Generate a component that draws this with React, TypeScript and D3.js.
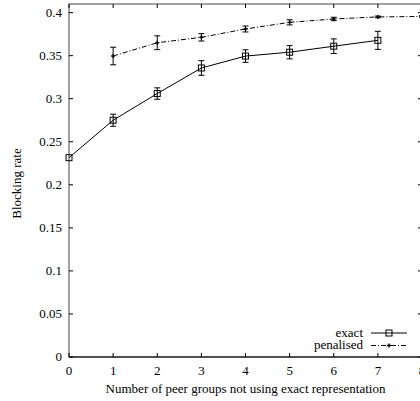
import React, { useRef, useEffect } from 'react';
import * as d3 from 'd3';

const groups = [0, 1, 2, 3, 4, 5, 6, 7, 8];
const exactX = [0, 1, 2, 3, 4, 5, 6, 7];
const exactVals = [0.2315, 0.275, 0.306, 0.3357, 0.3495, 0.354, 0.361, 0.3678];
const exactErr = [0, 0.007, 0.0066, 0.0085, 0.0073, 0.0077, 0.0085, 0.0105];
const penX = [1, 2, 3, 4, 5, 6, 7, 8];
const penVals = [0.3496, 0.365, 0.3713, 0.381, 0.3887, 0.3926, 0.395, 0.3955];
const penErr = [0.0102, 0.008, 0.0043, 0.0035, 0.003, 0.002, 0.001, 0.001];
const yTicks = [0, 0.05, 0.1, 0.15, 0.2, 0.25, 0.3, 0.35, 0.4];

const W = 420;
const H = 401;
const margin = { left: 69, right: -2, top: 4, bottom: 44 };
const FONT = '"Liberation Serif", "DejaVu Serif", serif';
const FS = 13;

const App = () => {
  const svgRef = useRef(null);

  useEffect(() => {
    const svgEl = d3.select(svgRef.current);
    svgEl.selectAll('*').remove();

    const x = d3.scaleLinear().domain([0, 8]).range([margin.left, W - margin.right]);
    const y = d3.scaleLinear().domain([0, 0.41]).range([H - margin.bottom, margin.top]);
    const x0 = x(0), x1 = x(8), y0 = y(0), y1 = y(0.41);
    const axisColor = '#444';

    // frame
    svgEl.append('rect')
      .attr('x', x0).attr('y', y1)
      .attr('width', x1 - x0).attr('height', y0 - y1)
      .attr('fill', 'none').attr('stroke', axisColor).attr('stroke-width', 1);
    svgEl.append('line')
      .attr('x1', x0).attr('x2', x1).attr('y1', y0).attr('y2', y0)
      .attr('stroke', '#000').attr('stroke-width', 1.2);

    // x ticks
    groups.forEach((g) => {
      const px = x(g);
      svgEl.append('line').attr('x1', px).attr('x2', px).attr('y1', y0).attr('y2', y0 - 4).attr('stroke', '#000');
      svgEl.append('line').attr('x1', px).attr('x2', px).attr('y1', y1).attr('y2', y1 + 4).attr('stroke', '#000');
      svgEl.append('text')
        .attr('x', px).attr('y', y0 + 18)
        .attr('text-anchor', 'middle')
        .attr('font-family', FONT).attr('font-size', FS)
        .text(g);
    });

    // y ticks
    yTicks.forEach((t) => {
      const py = y(t);
      svgEl.append('line').attr('x1', x0).attr('x2', x0 + 4).attr('y1', py).attr('y2', py).attr('stroke', '#000');
      svgEl.append('line').attr('x1', x1).attr('x2', x1 - 4).attr('y1', py).attr('y2', py).attr('stroke', '#000');
      svgEl.append('text')
        .attr('x', x0 - 7).attr('y', py + 4)
        .attr('text-anchor', 'end')
        .attr('font-family', FONT).attr('font-size', FS)
        .text(`${t}`);
    });

    // axis titles
    svgEl.append('text')
      .attr('x', (x0 + x1) / 2).attr('y', y0 + 36)
      .attr('text-anchor', 'middle')
      .attr('font-family', FONT).attr('font-size', FS)
      .text('Number of peer groups not using exact representation');
    svgEl.append('text')
      .attr('transform', `translate(21,${(y0 + y1) / 2 + 3}) rotate(-90)`)
      .attr('text-anchor', 'middle')
      .attr('font-family', FONT).attr('font-size', FS)
      .text('Blocking rate');

    const line = d3.line().x((d) => x(d[0])).y((d) => y(d[1]));

    const drawErr = (xs, vs, es) => {
      xs.forEach((g, i) => {
        if (!es[i]) return;
        const px = x(g);
        const ya = y(vs[i] - es[i]);
        const yb = y(vs[i] + es[i]);
        svgEl.append('line').attr('x1', px).attr('x2', px).attr('y1', ya).attr('y2', yb).attr('stroke', '#000');
        svgEl.append('line').attr('x1', px - 3).attr('x2', px + 3).attr('y1', ya).attr('y2', ya).attr('stroke', '#000');
        svgEl.append('line').attr('x1', px - 3).attr('x2', px + 3).attr('y1', yb).attr('y2', yb).attr('stroke', '#000');
      });
    };

    // exact
    svgEl.append('path')
      .attr('d', line(exactX.map((g, i) => [g, exactVals[i]])))
      .attr('fill', 'none').attr('stroke', '#000').attr('stroke-width', 1);
    drawErr(exactX, exactVals, exactErr);
    exactX.forEach((g, i) => {
      svgEl.append('rect')
        .attr('x', x(g) - 3).attr('y', y(exactVals[i]) - 3)
        .attr('width', 6).attr('height', 6)
        .attr('fill', 'none').attr('stroke', '#000').attr('stroke-width', 1);
    });

    // penalised
    const dash = '5,2,1,2';
    svgEl.append('path')
      .attr('d', line(penX.map((g, i) => [g, penVals[i]])))
      .attr('fill', 'none').attr('stroke', '#000').attr('stroke-width', 1)
      .attr('stroke-dasharray', dash);
    drawErr(penX, penVals, penErr);
    const plus = (cx, cy) => {
      svgEl.append('path')
        .attr('d', `M${cx - 2},${cy}H${cx + 2}M${cx},${cy - 2}V${cy + 2}`)
        .attr('stroke', '#000').attr('stroke-width', 1.4);
    };
    penX.forEach((g, i) => plus(x(g), y(penVals[i])));

    // legend
    const lx = 363, ly1 = 333, ly2 = 345.5;
    svgEl.append('text').attr('x', lx).attr('y', ly1 + 3.5).attr('text-anchor', 'end')
      .attr('font-family', FONT).attr('font-size', FS).text('exact');
    svgEl.append('line').attr('x1', 371).attr('x2', 407).attr('y1', ly1).attr('y2', ly1)
      .attr('stroke', '#000');
    svgEl.append('rect').attr('x', 386).attr('y', ly1 - 3).attr('width', 6).attr('height', 6)
      .attr('fill', 'none').attr('stroke', '#000');
    svgEl.append('text').attr('x', lx).attr('y', ly2 + 3.5).attr('text-anchor', 'end')
      .attr('font-family', FONT).attr('font-size', FS).text('penalised');
    svgEl.append('line').attr('x1', 371).attr('x2', 407).attr('y1', ly2).attr('y2', ly2)
      .attr('stroke', '#000').attr('stroke-dasharray', dash);
    plus(389, ly2);
  }, []);

  return (
    <svg ref={svgRef} width={W} height={H}
      style={{ position: 'absolute', left: 0, top: 0, background: '#fff' }} />
  );
};

export default App;
